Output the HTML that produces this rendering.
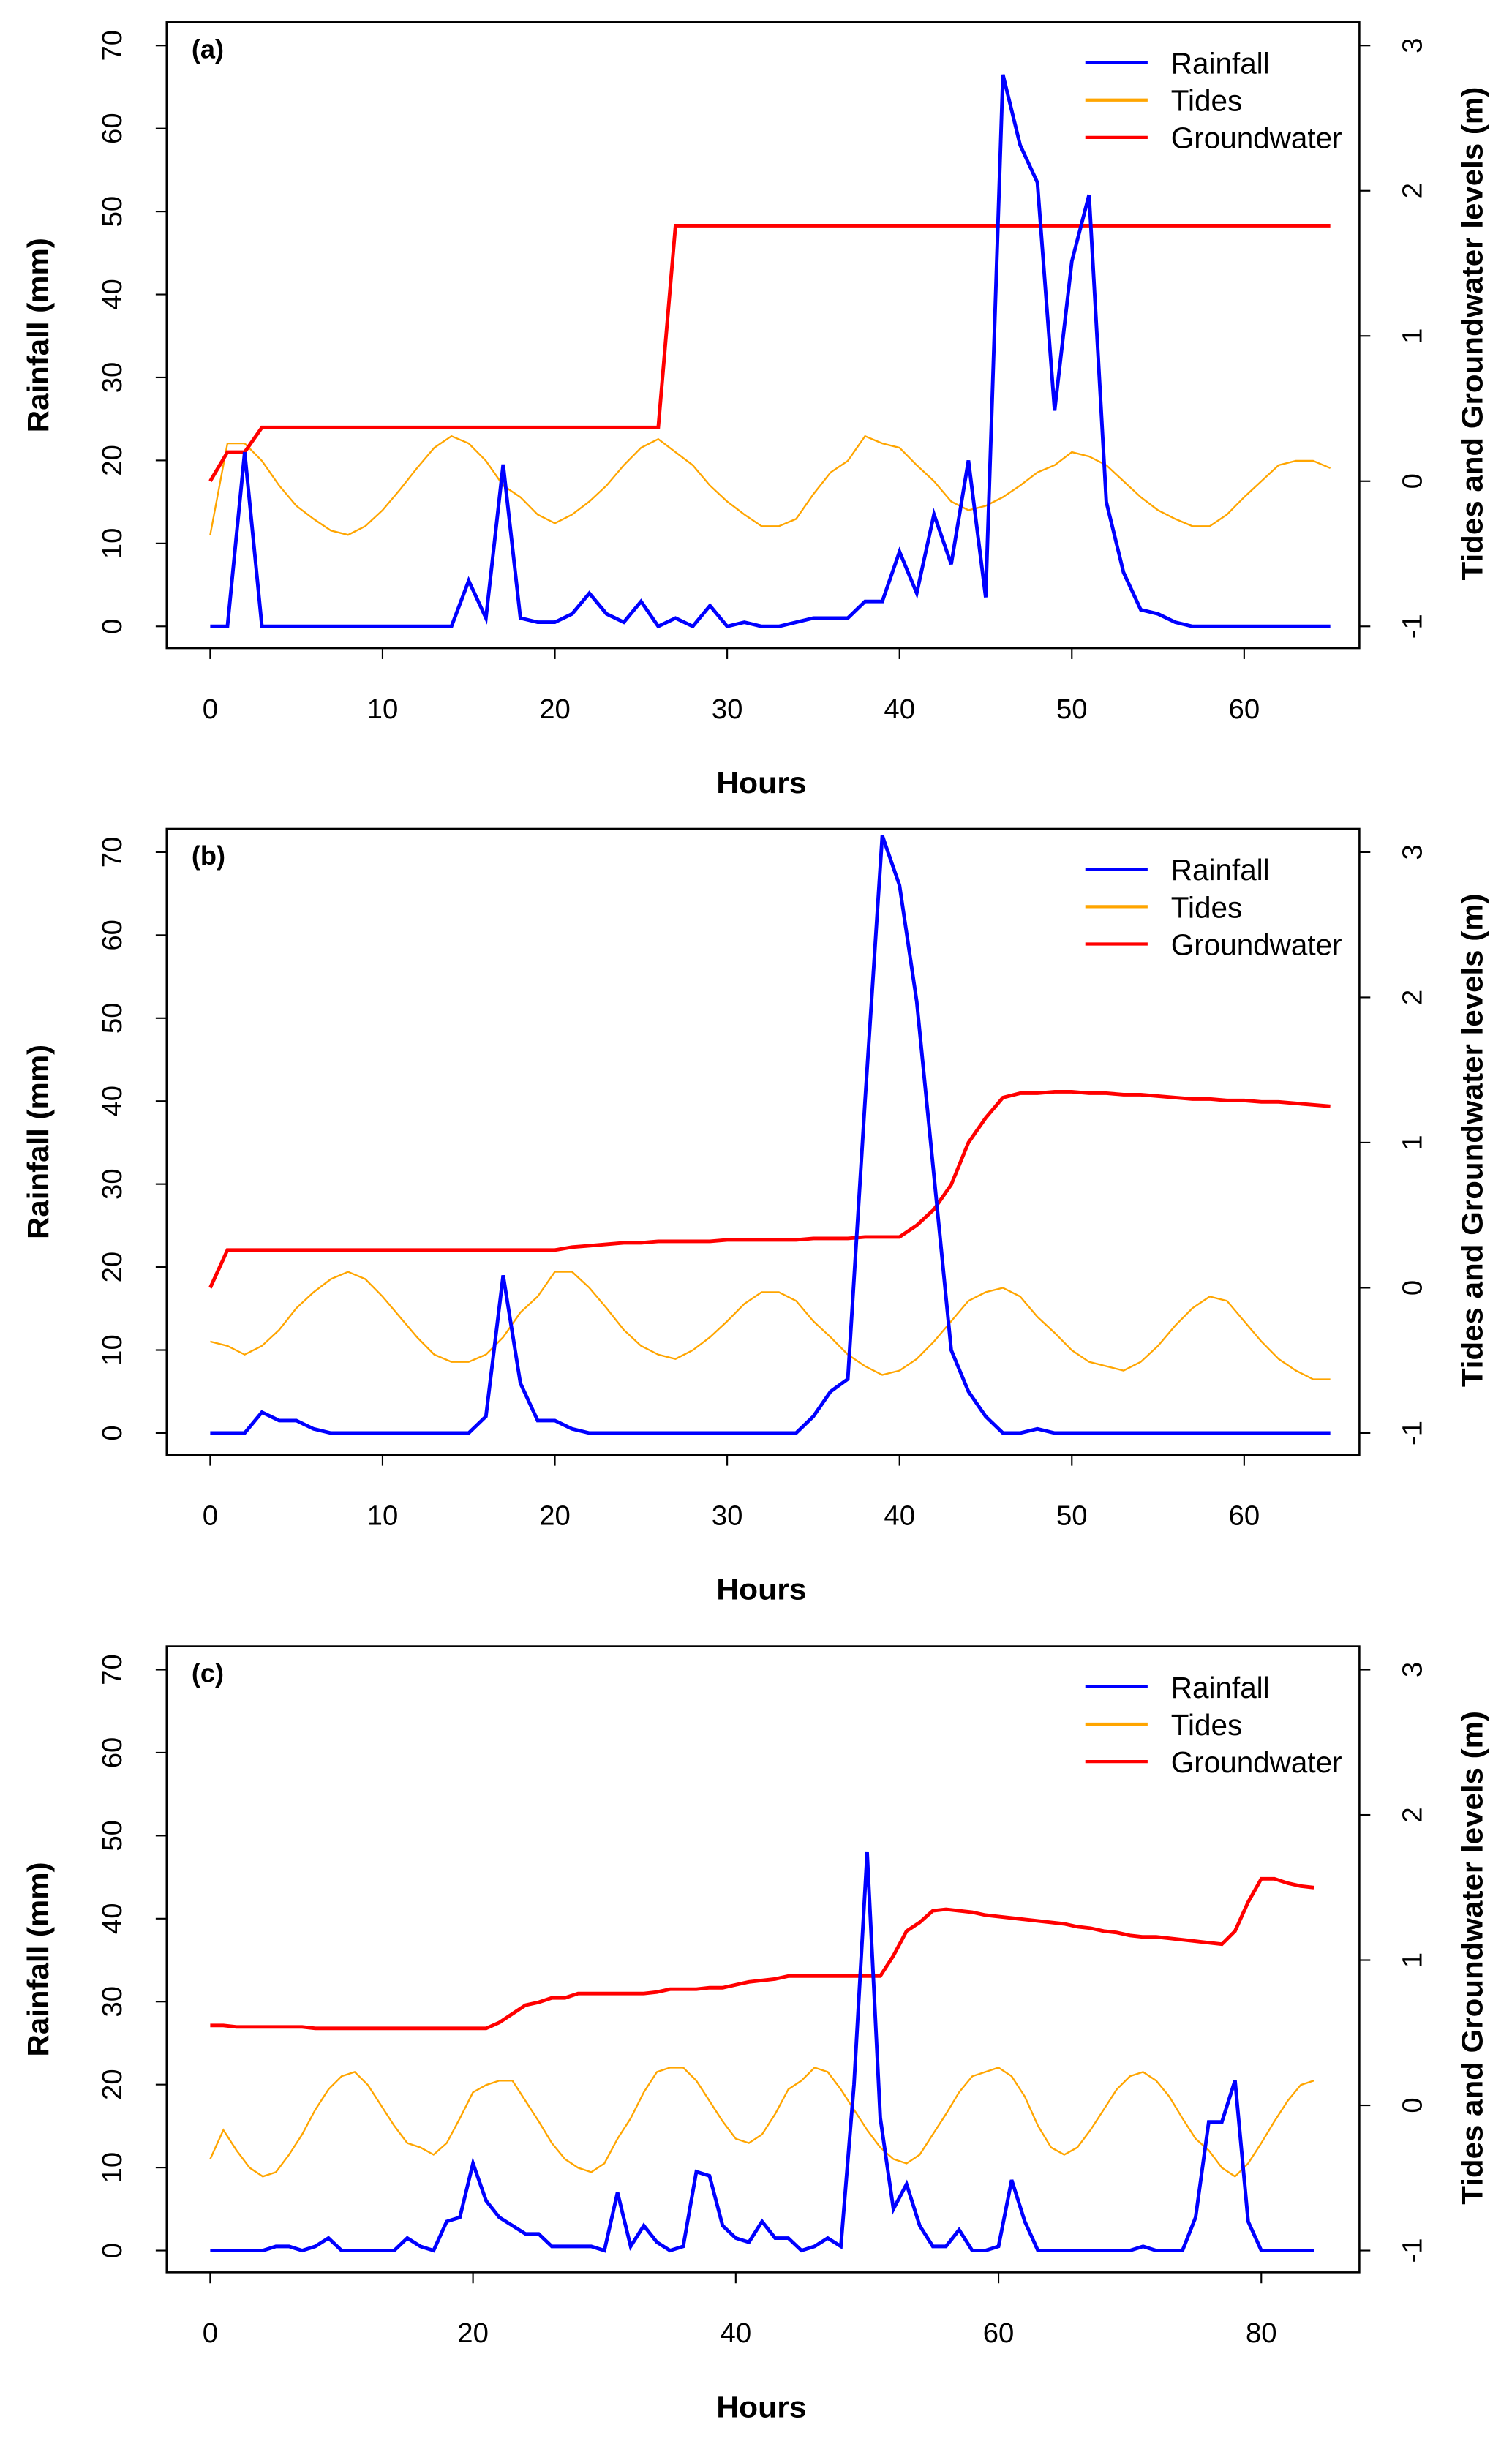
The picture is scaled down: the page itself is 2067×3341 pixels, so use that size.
<!DOCTYPE html>
<html><head><meta charset="utf-8"><style>
html,body{margin:0;padding:0;background:#fff}
svg{display:block}
text{font-family:"Liberation Sans",sans-serif}
</style></head><body>
<svg id="fig" width="2067" height="3341" viewBox="0 0 971 1569" xmlns="http://www.w3.org/2000/svg"></svg>
<script>
const rainA=[0,0,21,0,0,0,0,0,0,0,0,0,0,0,0,5.5,1,19.5,1,0.5,0.5,1.5,4,1.5,0.5,3,0,1,0,2.5,0,0.5,0,0,0.5,1,1,1,3,3,9,4,13.5,7.5,20,3.5,66.5,58,53.5,26,44,52,15,6.5,2,1.5,0.5,0,0,0,0,0,0,0,0,0];
const tideA=[-0.37,0.26,0.26,0.14,-0.03,-0.17,-0.26,-0.34,-0.37,-0.31,-0.2,-0.06,0.09,0.23,0.31,0.26,0.14,-0.03,-0.11,-0.23,-0.29,-0.23,-0.14,-0.03,0.11,0.23,0.29,0.2,0.11,-0.03,-0.14,-0.23,-0.31,-0.31,-0.26,-0.09,0.06,0.14,0.31,0.26,0.23,0.11,0,-0.14,-0.2,-0.17,-0.11,-0.03,0.06,0.11,0.2,0.17,0.11,0,-0.11,-0.2,-0.26,-0.31,-0.31,-0.23,-0.11,0,0.11,0.14,0.14,0.09];
const gwA=[0,0.2,0.2,0.37,0.37,0.37,0.37,0.37,0.37,0.37,0.37,0.37,0.37,0.37,0.37,0.37,0.37,0.37,0.37,0.37,0.37,0.37,0.37,0.37,0.37,0.37,0.37,1.76,1.76,1.76,1.76,1.76,1.76,1.76,1.76,1.76,1.76,1.76,1.76,1.76,1.76,1.76,1.76,1.76,1.76,1.76,1.76,1.76,1.76,1.76,1.76,1.76,1.76,1.76,1.76,1.76,1.76,1.76,1.76,1.76,1.76,1.76,1.76,1.76,1.76,1.76];
const rainB=[0,0,0,2.5,1.5,1.5,0.5,0,0,0,0,0,0,0,0,0,2,19,6,1.5,1.5,0.5,0,0,0,0,0,0,0,0,0,0,0,0,0,2,5,6.5,40,72,66,52,31,10,5,2,0,0,0.5,0,0,0,0,0,0,0,0,0,0,0,0,0,0,0,0,0];
const tideB=[-0.37,-0.4,-0.46,-0.4,-0.29,-0.14,-0.03,0.06,0.11,0.06,-0.06,-0.2,-0.34,-0.46,-0.51,-0.51,-0.46,-0.34,-0.17,-0.06,0.11,0.11,0,-0.14,-0.29,-0.4,-0.46,-0.49,-0.43,-0.34,-0.23,-0.11,-0.03,-0.03,-0.09,-0.23,-0.34,-0.46,-0.54,-0.6,-0.57,-0.49,-0.37,-0.23,-0.09,-0.03,0,-0.06,-0.2,-0.31,-0.43,-0.51,-0.54,-0.57,-0.51,-0.4,-0.26,-0.14,-0.06,-0.09,-0.23,-0.37,-0.49,-0.57,-0.63,-0.63];
const gwB=[0,0.26,0.26,0.26,0.26,0.26,0.26,0.26,0.26,0.26,0.26,0.26,0.26,0.26,0.26,0.26,0.26,0.26,0.26,0.26,0.26,0.28,0.29,0.3,0.31,0.31,0.32,0.32,0.32,0.32,0.33,0.33,0.33,0.33,0.33,0.34,0.34,0.34,0.35,0.35,0.35,0.43,0.54,0.71,1.0,1.17,1.31,1.34,1.34,1.35,1.35,1.34,1.34,1.33,1.33,1.32,1.31,1.3,1.3,1.29,1.29,1.28,1.28,1.27,1.26,1.25];
const rainC=[0,0,0,0,0,0.5,0.5,0,0.5,1.5,0,0,0,0,0,1.5,0.5,0,3.5,4,10.5,6,4,3,2,2,0.5,0.5,0.5,0.5,0,7,0.5,3,1,0,0.5,9.5,9,3,1.5,1,3.5,1.5,1.5,0,0.5,1.5,0.5,20,48,16,5,8,3,0.5,0.5,2.5,0,0,0.5,8.5,3.5,0,0,0,0,0,0,0,0,0.5,0,0,0,4,15.5,15.5,20.5,3.5,0,0,0,0,0];
const tideC=[-0.37,-0.17,-0.31,-0.43,-0.49,-0.46,-0.34,-0.2,-0.03,0.11,0.2,0.23,0.14,0,-0.14,-0.26,-0.29,-0.34,-0.26,-0.09,0.09,0.14,0.17,0.17,0.03,-0.11,-0.26,-0.37,-0.43,-0.46,-0.4,-0.23,-0.09,0.09,0.23,0.26,0.26,0.17,0.03,-0.11,-0.23,-0.26,-0.2,-0.06,0.11,0.17,0.26,0.23,0.11,-0.03,-0.17,-0.29,-0.37,-0.4,-0.34,-0.2,-0.06,0.09,0.2,0.23,0.26,0.2,0.06,-0.14,-0.29,-0.34,-0.29,-0.17,-0.03,0.11,0.2,0.23,0.17,0.06,-0.09,-0.23,-0.31,-0.43,-0.49,-0.4,-0.26,-0.11,0.03,0.14,0.17];
const gwC=[0.55,0.55,0.54,0.54,0.54,0.54,0.54,0.54,0.53,0.53,0.53,0.53,0.53,0.53,0.53,0.53,0.53,0.53,0.53,0.53,0.53,0.53,0.57,0.63,0.69,0.71,0.74,0.74,0.77,0.77,0.77,0.77,0.77,0.77,0.78,0.8,0.8,0.8,0.81,0.81,0.83,0.85,0.86,0.87,0.89,0.89,0.89,0.89,0.89,0.89,0.89,0.89,1.03,1.2,1.26,1.34,1.35,1.34,1.33,1.31,1.3,1.29,1.28,1.27,1.26,1.25,1.23,1.22,1.2,1.19,1.17,1.16,1.16,1.15,1.14,1.13,1.12,1.11,1.2,1.4,1.56,1.56,1.53,1.51,1.5];
const leftTicks=[0,10,20,30,40,50,60,70];
const rightTicks=[-1,0,1,2,3];
const xTicksAB=[0,10,20,30,40,50,60];
const xTicksC=[0,20,40,60,80];
const legendLabels=["Rainfall","Tides","Groundwater"];
const panelLabels=["(a)","(b)","(c)"];

const NS="http://www.w3.org/2000/svg";
const svg=document.getElementById('fig');
function mk(tag,attrs,parent,txt){const e=document.createElementNS(NS,tag);for(const k in attrs)e.setAttribute(k,attrs[k]);if(txt!==undefined)e.textContent=txt;(parent||svg).appendChild(e);return e;}

function panel(idx,off,xmax,xticks,rain,tide,gw){
  const g=mk('g',{});
  
  
  const x0=135, xPer=(xmax===60?(799-135)/60:(810-135)/80);
  const X=v=>x0+v*xPer;
  const yb=402+off, yt=29+off;
  const Y=v=>yb-(v/70)*(yb-yt);
  const YR=v=>yb-((v+1)/4)*(yb-yt);
  const box=mk('rect',{x:107,y:14+off,width:766,height:402,fill:'none',stroke:'#000','stroke-width':1.2},g);
  
  leftTicks.forEach(t=>{
    mk('line',{x1:100,x2:107,y1:Y(t),y2:Y(t),stroke:'#000'},g);
    const tx=mk('text',{x:78,y:Y(t),'font-size':18,'text-anchor':'middle',transform:`rotate(-90 78 ${Y(t)})`},g,t);
    
  });
  rightTicks.forEach(t=>{
    mk('line',{x1:873,x2:880,y1:YR(t),y2:YR(t),stroke:'#000'},g);
    const tx=mk('text',{x:913,y:YR(t),'font-size':18,'text-anchor':'middle',transform:`rotate(-90 913 ${YR(t)})`},g,t);
    
  });
  xticks.forEach(t=>{
    mk('line',{x1:X(t),x2:X(t),y1:416+off,y2:423+off,stroke:'#000'},g);
    const tx=mk('text',{x:X(t),y:461+off,'font-size':18,'text-anchor':'middle'},g,t);
    
  });
  const yl=mk('text',{x:31,y:215+off,'font-size':19,'font-weight':'bold','text-anchor':'middle',textLength:125,lengthAdjust:'spacingAndGlyphs',transform:`rotate(-90 31 ${215+off})`},g,'Rainfall (mm)');
  
  const yr=mk('text',{x:952,y:214+off,'font-size':19,'font-weight':'bold','text-anchor':'middle',textLength:317,lengthAdjust:'spacingAndGlyphs',transform:`rotate(-90 952 ${214+off})`},g,'Tides and Groundwater levels (m)');
  
  const xl=mk('text',{x:489,y:509+off,'font-size':19,'font-weight':'bold','text-anchor':'middle',textLength:58,lengthAdjust:'spacingAndGlyphs'},g,'Hours');
  
  const pl=mk('text',{x:123,y:37+off,'font-size':17,'font-weight':'bold'},g,panelLabels[idx]);
  
  const pts=(arr,f)=>arr.map((v,i)=>X(i).toFixed(2)+','+f(v).toFixed(2)).join(' ');
  const t=mk('polyline',{points:pts(tide,YR),fill:'none',stroke:'#FFA500','stroke-width':1.1},g);
  
  const w=mk('polyline',{points:pts(gw,YR),fill:'none',stroke:'#FF0000','stroke-width':2.3},g);
  
  const r=mk('polyline',{points:pts(rain,Y),fill:'none',stroke:'#0000FF','stroke-width':2.3},g);
  
  const cols=['#0000FF','#FFA500','#FF0000'];
  legendLabels.forEach((l,i)=>{
    const yy=40+off+i*24;
    const le=mk('g',{},g);
    
    mk('line',{x1:697,x2:737,y1:yy,y2:yy,stroke:cols[i],'stroke-width':2},le);
    mk('text',{x:752,y:yy+7,'font-size':19},le,l);
  });
}
panel(0,0,60,xTicksAB,rainA,tideA,gwA);
panel(1,518,60,xTicksAB,rainB,tideB,gwB);
panel(2,1043,80,xTicksC,rainC,tideC,gwC);
</script>
</body></html>
